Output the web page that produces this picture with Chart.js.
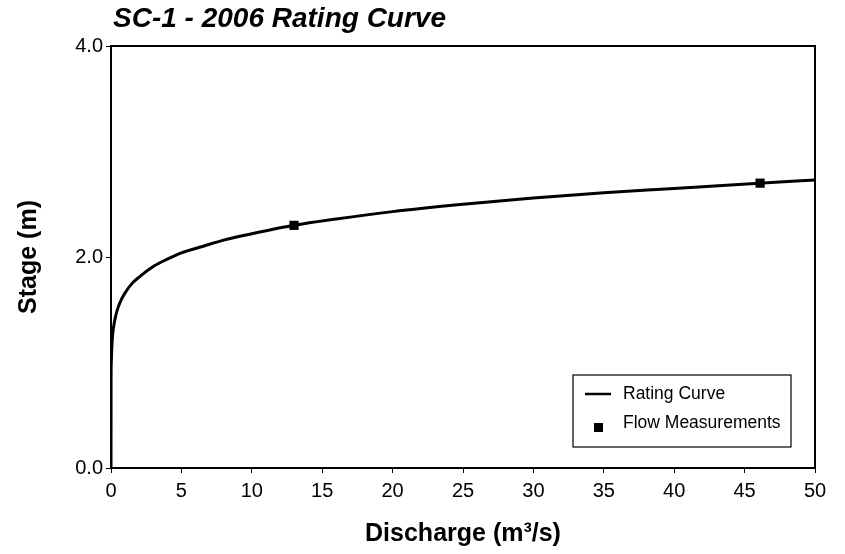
<!DOCTYPE html>
<html>
<head>
<meta charset="utf-8">
<script src="https://cdn.jsdelivr.net/npm/chart.js@4/dist/chart.umd.min.js"></script>
<style>
  body { margin: 0; background: #fff; }
  canvas { display: block; }
</style>
</head>
<body>
<canvas id="ratingChart" width="845" height="554"></canvas>
<script>
// Rating curve (discharge m3/s, stage m)
var ratingQ = [0, 0.005, 0.02, 0.05, 0.1, 0.2, 0.35, 0.5, 0.75, 1, 1.5, 2, 3, 4, 5, 6.5, 8, 10, 13, 16, 20, 25, 30, 35, 40, 46, 50];
var ratingH = [0, 0.85, 1.0, 1.12, 1.24, 1.35, 1.45, 1.52, 1.60, 1.66, 1.75, 1.81, 1.91, 1.98, 2.04, 2.10, 2.16, 2.22, 2.30, 2.36, 2.43, 2.50, 2.56, 2.61, 2.65, 2.70, 2.73];

// Flow measurements
var flowQ = [13.0, 46.1];
var flowH = [2.30, 2.70];

var FONT = "'Liberation Sans', Arial, sans-serif";

function toXY(xs, ys) {
    return xs.map(function (x, i) { return { x: x, y: ys[i] }; });
}

// draws the title, the box round the plot and the legend
var decorations = {
    id: 'decorations',
    afterDraw: function (chart) {
        var ctx = chart.ctx;
        var a = chart.chartArea;
        ctx.save();

        // title
        ctx.fillStyle = '#000';
        ctx.font = 'italic bold 28px ' + FONT;
        ctx.textAlign = 'left';
        ctx.textBaseline = 'middle';
        ctx.fillText('SC-1 - 2006 Rating Curve', a.left + 2, 19);

        // frame
        ctx.strokeStyle = '#000';
        ctx.lineWidth = 2;
        ctx.strokeRect(a.left, a.top, a.right - a.left, a.bottom - a.top);

        // legend
        var bx = a.right - 242, by = a.bottom - 93, bw = 218, bh = 72;
        ctx.fillStyle = '#fff';
        ctx.fillRect(bx, by, bw, bh);
        ctx.lineWidth = 1.2;
        ctx.strokeRect(bx, by, bw, bh);

        var ds = chart.data.datasets;
        ctx.lineWidth = 2.5;
        ctx.beginPath();
        ctx.moveTo(bx + 12, by + 19);
        ctx.lineTo(bx + 38, by + 19);
        ctx.stroke();
        ctx.fillStyle = '#000';
        ctx.fillRect(bx + 21, by + 48, 9, 9);

        ctx.font = '17.5px ' + FONT;
        ctx.fillText(ds[0].label, bx + 50, by + 19);
        ctx.fillText(ds[1].label, bx + 50, by + 48);
        ctx.restore();
    }
};

var ctx = document.getElementById('ratingChart').getContext('2d');
var chart = new Chart(ctx, {
    type: 'line',
    data: {
        datasets: [{
            label: 'Rating Curve',
            data: toXY(ratingQ, ratingH),
            borderColor: '#000',
            borderWidth: 3,
            pointRadius: 0,
            cubicInterpolationMode: 'monotone',
            fill: false
        }, {
            label: 'Flow Measurements',
            type: 'scatter',
            data: toXY(flowQ, flowH),
            showLine: false,
            pointStyle: 'rect',
            pointRadius: 6.5,
            backgroundColor: '#000',
            borderColor: '#000',
            borderWidth: 0
        }]
    },
    options: {
        responsive: false,
        animation: false,
        layout: { padding: { top: 46, right: 30, left: 0, bottom: 0 } },
        plugins: {
            legend: { display: false },
            tooltip: { enabled: false }
        },
        scales: {
            x: {
                type: 'linear',
                min: 0,
                max: 50,
                afterFit: function (s) { s.height = 86; },
                ticks: {
                    stepSize: 5,
                    color: '#000',
                    padding: 6,
                    maxRotation: 0,
                    font: { family: FONT, size: 20 }
                },
                grid: { drawOnChartArea: false, tickLength: 5, color: '#000', lineWidth: 1 },
                border: { color: '#000', width: 2 },
                title: {
                    display: true,
                    text: 'Discharge (m³/s)',
                    color: '#000',
                    font: { family: FONT, size: 25, weight: 'bold' },
                    padding: { top: 0, bottom: 5 }
                }
            },
            y: {
                type: 'linear',
                min: 0,
                max: 4,
                afterFit: function (s) { s.width = 111; },
                ticks: {
                    stepSize: 2,
                    color: '#000',
                    padding: 3,
                    font: { family: FONT, size: 20 },
                    callback: function (v) { return v.toFixed(1); }
                },
                grid: { drawOnChartArea: false, tickLength: 5, color: '#000', lineWidth: 1 },
                border: { color: '#000', width: 2 },
                title: {
                    display: true,
                    text: 'Stage (m)',
                    color: '#000',
                    font: { family: FONT, size: 25, weight: 'bold' },
                    padding: { top: 14, bottom: 0 }
                }
            }
        }
    },
    plugins: [decorations]
});
</script>
</body>
</html>
